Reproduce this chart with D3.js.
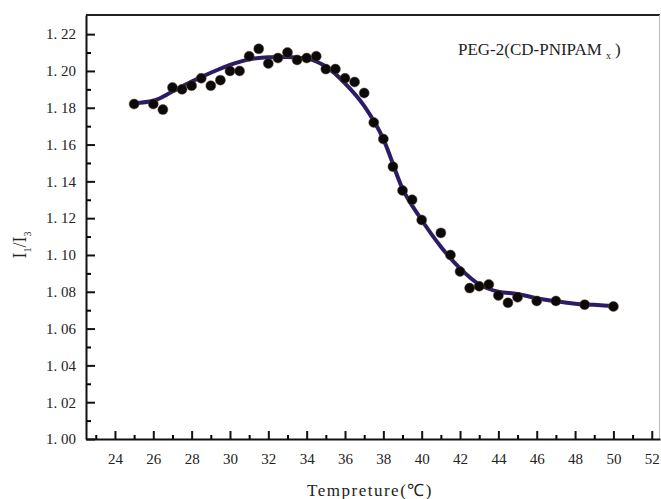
<!DOCTYPE html>
<html>
<head>
<meta charset="utf-8">
<script src="https://cdn.jsdelivr.net/npm/d3@7"></script>
<style>
  body { margin: 0; background: #fff; }
  svg { display: block; }
  text { white-space: pre; }
</style>
</head>
<body>
<div id="chart"></div>
<script>
// measured points
var temps = [25, 26, 26.5, 27, 27.5, 28, 28.5, 29, 29.5, 30, 30.5, 31, 31.5, 32, 32.5, 33, 33.5, 34, 34.5,
             35, 35.5, 36, 36.5, 37, 37.5, 38, 38.5, 39, 39.5, 40, 41, 41.5, 42, 42.5, 43, 43.5, 44, 44.5,
             45, 46, 47, 48.5, 50];
var ratios = [1.182, 1.182, 1.179, 1.191, 1.190, 1.192, 1.196, 1.192, 1.195, 1.200, 1.200, 1.208, 1.212, 1.204, 1.207, 1.210, 1.206, 1.207, 1.208,
              1.201, 1.201, 1.196, 1.194, 1.188, 1.172, 1.163, 1.148, 1.135, 1.130, 1.119, 1.112, 1.100, 1.091, 1.082, 1.083, 1.084, 1.078, 1.074,
              1.077, 1.075, 1.075, 1.073, 1.072];

// fitted curve
var fitT = [25, 26, 27, 28, 29, 30, 31, 32, 33, 34, 35, 36, 37, 38, 39, 40, 41, 42, 43, 44, 45, 46, 47, 48, 49, 50];
var fitV = [1.1825, 1.1838, 1.1888, 1.1942, 1.1990, 1.2033, 1.2063, 1.2075, 1.2076, 1.2067, 1.2024, 1.1933, 1.1810, 1.1630, 1.1360, 1.1190,
            1.1045, 1.0927, 1.0840, 1.0800, 1.0788, 1.0765, 1.0748, 1.0735, 1.0729, 1.0723];

var xTicks = [24, 26, 28, 30, 32, 34, 36, 38, 40, 42, 44, 46, 48, 50, 52];
var xMinor = [23, 25, 27, 29, 31, 33, 35, 37, 39, 41, 43, 45, 47, 49, 51];
var yTicks = [1.00, 1.02, 1.04, 1.06, 1.08, 1.10, 1.12, 1.14, 1.16, 1.18, 1.20, 1.22];
var yLabels = ["1. 00", "1. 02", "1. 04", "1. 06", "1. 08", "1. 10", "1. 12", "1. 14", "1. 16", "1. 18", "1. 20", "1. 22"];
var yMinor = [1.01, 1.03, 1.05, 1.07, 1.09, 1.11, 1.13, 1.15, 1.17, 1.19, 1.21];

var margin = {top: 15, right: 1, bottom: 60, left: 86},
    width = 661 - margin.left - margin.right,
    height = 499 - margin.top - margin.bottom;

var svg = d3.select("#chart")
  .append("svg")
    .attr("width", 661)
    .attr("height", 499)
  .append("g")
    .attr("transform", "translate(" + margin.left + "," + margin.top + ")");

var x = d3.scaleLinear().domain([22.49, 52.43]).range([0, width]);
var y = d3.scaleLinear().domain([1.0, 1.2304]).range([height, 0]);

// frame: top dark, right light grey
svg.append("line").attr("x1", 0).attr("x2", width).attr("y1", 0).attr("y2", 0)
  .attr("stroke", "#222").attr("stroke-width", 2);
svg.append("line").attr("x1", width - 0.5).attr("x2", width - 0.5).attr("y1", 0).attr("y2", height)
  .attr("stroke", "#bbb").attr("stroke-width", 1);

// minor ticks
svg.append("g")
  .attr("transform", "translate(0," + height + ")")
  .call(d3.axisBottom(x).tickValues(xMinor).tickSize(-4).tickFormat(""))
  .call(g => g.select(".domain").remove())
  .selectAll("line").attr("stroke-width", 2);
svg.append("g")
  .call(d3.axisLeft(y).tickValues(yMinor).tickSize(-5).tickFormat(""))
  .call(g => g.select(".domain").remove())
  .selectAll("line").attr("stroke-width", 2);

// major axes
var xAxis = svg.append("g")
  .attr("transform", "translate(0," + height + ")")
  .call(d3.axisBottom(x).tickValues(xTicks).tickSizeInner(-8).tickSizeOuter(0).tickPadding(14));
var yAxis = svg.append("g")
  .call(d3.axisLeft(y).tickValues(yTicks).tickSizeInner(-9).tickSizeOuter(0).tickPadding(10)
    .tickFormat(function(d, i) { return yLabels[i]; }));

[xAxis, yAxis].forEach(function(g) {
  g.attr("font-family", "'Liberation Serif', 'DejaVu Serif', serif").attr("font-size", 15);
  g.select(".domain").attr("stroke", "#111").attr("stroke-width", 2);
  g.selectAll(".tick line").attr("stroke", "#111").attr("stroke-width", 2);
  g.selectAll("text").attr("fill", "#222");
});

// fitted curve
var fit = fitT.map(function(t, i) { return {t: t, v: fitV[i]}; });
svg.append("path")
  .datum(fit)
  .attr("fill", "none")
  .attr("stroke", "#2c1c66")
  .attr("stroke-width", 4)
  .attr("stroke-linecap", "round")
  .attr("d", d3.line()
    .x(function(d) { return x(d.t); })
    .y(function(d) { return y(d.v); })
    .curve(d3.curveMonotoneX));

// data points
svg.selectAll("circle.pt")
  .data(temps)
  .enter().append("circle")
    .attr("class", "pt")
    .attr("cx", function(d) { return x(d); })
    .attr("cy", function(d, i) { return y(ratios[i]); })
    .attr("r", 5)
    .attr("fill", "#0a0a0a")
    .attr("stroke", "#6b4a30")
    .attr("stroke-width", 0.5);

// legend text
var leg = svg.append("text")
  .attr("x", 458 - margin.left)
  .attr("y", 40)
  .attr("font-family", "'Liberation Serif', serif")
  .attr("font-size", 17)
  .attr("fill", "#222");
leg.append("tspan").text("PEG-2(CD-PNIPAM");
leg.append("tspan").attr("dx", 4).attr("dy", 4).attr("font-size", 10).text("x");
leg.append("tspan").attr("dx", 4).attr("dy", -4).text(")");

// axis labels
svg.append("text")
  .attr("text-anchor", "middle")
  .attr("x", 370 - margin.left)
  .attr("y", 496 - margin.top)
  .attr("font-family", "'Liberation Serif', serif")
  .attr("font-size", 17)
  .style("letter-spacing", "1.5px")
  .attr("fill", "#222")
  .text("Tempreture(℃)");

var yl = svg.append("text")
  .attr("text-anchor", "middle")
  .attr("transform", "translate(" + (26 - margin.left) + "," + (245 - margin.top) + ") rotate(-90)")
  .attr("font-family", "'Liberation Serif', serif")
  .attr("font-size", 18)
  .attr("fill", "#222");
yl.append("tspan").text("I");
yl.append("tspan").attr("dy", 5).attr("font-size", 10).text("1");
yl.append("tspan").attr("dy", -5).text("/I");
yl.append("tspan").attr("dy", 5).attr("font-size", 10).text("3");
</script>
</body>
</html>
